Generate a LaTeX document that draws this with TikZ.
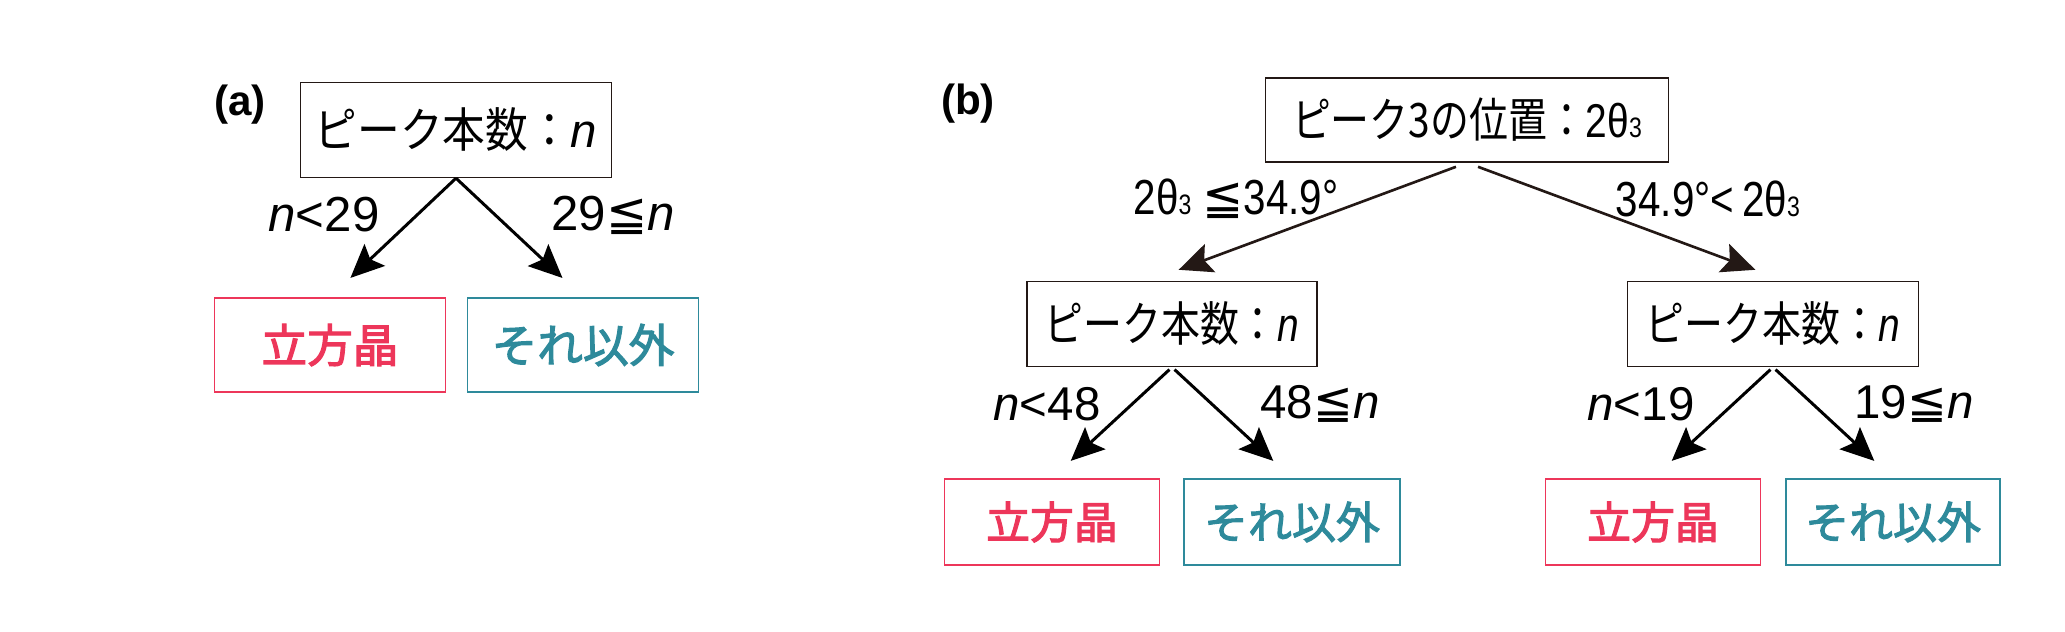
\documentclass[tikz,border=0pt]{standalone}
\usepackage{fontspec}
\setmainfont{Liberation Sans}
\newfontfamily\jp{Noto Sans CJK JP}
\newfontfamily\jpm[FakeBold=2.5]{Noto Sans CJK JP}
\newfontfamily\jpa[FakeStretch=0.9]{Noto Sans CJK JP}
\newfontfamily\jpn[FakeStretch=0.82]{Noto Sans CJK JP}
\newfontfamily\latn[FakeStretch=0.82]{Liberation Sans}
\newfontfamily\symf{DejaVu Sans}
\usetikzlibrary{arrows.meta}
\definecolor{cubred}{RGB}{237,54,90}
\definecolor{restteal}{RGB}{46,138,155}
\definecolor{inkdark}{RGB}{35,24,21}
\newcommand{\leqqsign}{{\symf ≦}}
\newcommand{\nvar}{{\rmfamily\itshape n}}
\newcommand{\nvarc}{{\latn\itshape n}}
\newcommand{\thetathree}{2θ{\fontsize{16}{16}\selectfont 3}}

\begin{document}
\begin{tikzpicture}[x=0.02cm,y=-0.02cm,
  qbox/.style={draw=inkdark,line width=0.8pt,inner sep=0pt,minimum height=1.7cm,font=\fontsize{27}{27}\selectfont},
  cubbox/.style={draw=cubred,line width=0.9pt,inner sep=0pt,minimum height=1.72cm,text=cubred,font=\fontsize{25}{25}\selectfont\jpm},
  restbox/.style={draw=restteal,line width=0.9pt,inner sep=0pt,minimum height=1.72cm,text=restteal,font=\fontsize{25}{25}\selectfont\jpm},
  lbl/.style={inner sep=0pt,font=\fontsize{27}{27}\selectfont},
  tag/.style={inner sep=0pt,font=\fontsize{24}{24}\selectfont\bfseries},
  arr/.style={-{Stealth[length=19pt,width=17pt,inset=3.5pt]},line width=1.7pt,shorten >=15pt}]
\useasboundingbox (0,0) rectangle (2065,632);
\node[tag] (tagA) at (240,105) {(a)};
\node[qbox,minimum width=6.22cm,minimum height=1.9cm] (rootA) at (456,130) {\jpa ピーク本数：\nvar};
\node[cubbox,minimum width=4.62cm,minimum height=1.88cm,font=\fontsize{26}{26}\selectfont\jpm] (cubA) at (330,345) {立方晶};
\node[restbox,minimum width=4.62cm,minimum height=1.88cm,font=\fontsize{26}{26}\selectfont\jpm] (restA) at (583,345) {それ以外};
\draw[arr,shorten >=16pt] (rootA.south) -- (cubA.north);
\draw[arr,shorten >=16pt] (rootA.south) -- (restA.north);
\node[lbl,font=\fontsize{28}{28}\selectfont] (condA1) at (324,215) {\nvar<29};
\node[lbl,font=\fontsize{28}{28}\selectfont] (condA2) at (613,215) {29\leqqsign\nvar};

\node[tag] (tagB) at (968,104) {(b)};
\node[qbox,minimum width=8.06cm,minimum height=1.68cm] (rootB) at (1467,120) {\jpn ピーク3の位置：\latn\thetathree};
\node[qbox,minimum width=5.8cm] (peakL) at (1172,324) {\jpn ピーク本数：\nvarc};
\node[qbox,minimum width=5.82cm] (peakR) at (1773,324) {\jpn ピーク本数：\nvarc};
\draw[arr,draw=inkdark,line width=1.5pt,shorten <=6.7pt,shorten >=18pt] (rootB.south) -- ([xshift=-0.46cm]peakL.north);
\draw[arr,draw=inkdark,line width=1.5pt,shorten <=6.7pt,shorten >=18pt] (rootB.south) -- ([xshift=0.24cm]peakR.north);
\node[lbl,font=\fontsize{28}{28}\selectfont\latn] (condB1) at (1236,199) {\thetathree\ \leqqsign34.9°};
\node[lbl,font=\fontsize{28}{28}\selectfont\latn] (condB2) at (1708,199) {34.9°<\,\thetathree};

\node[cubbox,minimum width=4.3cm] (cubL) at (1052,522) {立方晶};
\node[restbox,minimum width=4.32cm] (restL) at (1292,522) {それ以外};
\node[cubbox,minimum width=4.3cm] (cubR) at (1653,522) {立方晶};
\node[restbox,minimum width=4.28cm] (restR) at (1893,522) {それ以外};
\draw[arr,shorten <=2pt,shorten >=14.5pt] (peakL.south) -- (cubL.north);
\draw[arr,shorten <=2pt,shorten >=14.5pt] (peakL.south) -- (restL.north);
\draw[arr,shorten <=2pt,shorten >=14.5pt] (peakR.south) -- (cubR.north);
\draw[arr,shorten <=2pt,shorten >=14.5pt] (peakR.south) -- (restR.north);
\node[lbl] (condL1) at (1047,404) {\nvar<48};
\node[lbl] (condL2) at (1320,404) {48\leqqsign\nvar};
\node[lbl] (condR1) at (1641,404) {\nvar<19};
\node[lbl] (condR2) at (1914,404) {19\leqqsign\nvar};
\end{tikzpicture}
\end{document}
